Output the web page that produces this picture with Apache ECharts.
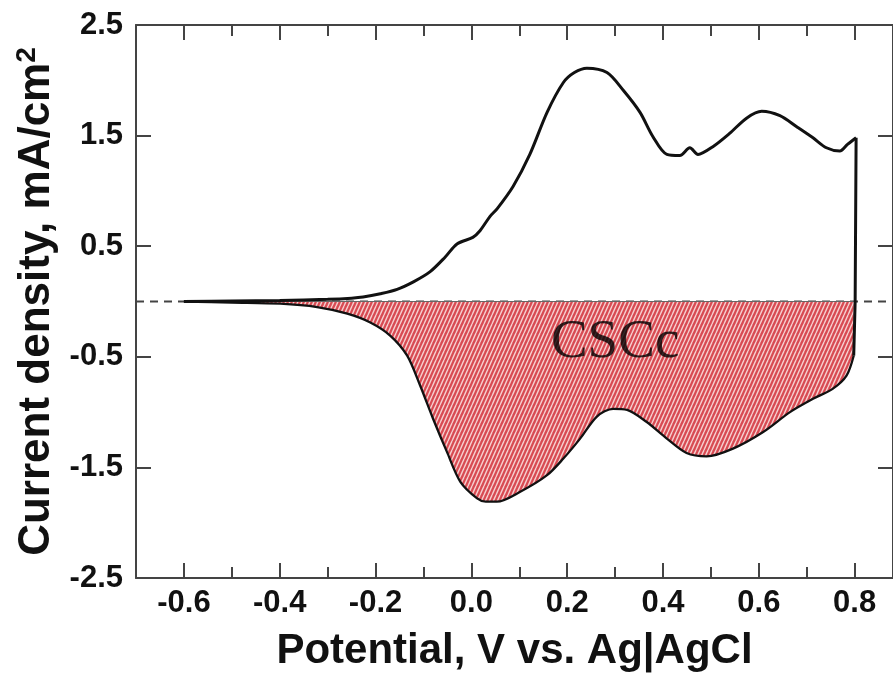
<!DOCTYPE html>
<html><head><meta charset="utf-8">
<script src="https://cdn.jsdelivr.net/npm/echarts@6/dist/echarts.min.js"></script>
<style>html,body{margin:0;padding:0;background:#fff}#c{width:893px;height:677px}</style>
</head><body><div id="c"></div>
<script>
// ---- data ----
const xMajorTicks = [-0.6, -0.4, -0.2, 0.0, 0.2, 0.4, 0.6, 0.8];
const xMinorTicks = [-0.5, -0.3, -0.1, 0.1, 0.3, 0.5, 0.7];
const yTickLabels = [-2.5, -1.5, -0.5, 0.5, 1.5, 2.5];
const yInnerTicks = [-1.5, -0.5, 0.5, 1.5];

// anodic (forward) sweep
const anodicPotential = [-0.6,-0.5,-0.4,-0.3,-0.25,-0.226,-0.19,-0.155,-0.12,-0.086,-0.055,-0.03,0.003,0.018,0.039,0.054,0.087,0.122,0.158,0.192,0.215,0.241,0.283,0.317,0.352,0.379,0.408,0.435,0.456,0.473,0.504,0.539,0.575,0.606,0.644,0.679,0.713,0.741,0.769,0.785,0.803];
const anodicCurrent   = [0,0.005,0.01,0.02,0.03,0.04,0.07,0.11,0.18,0.27,0.40,0.52,0.58,0.64,0.77,0.84,1.04,1.33,1.71,1.98,2.07,2.11,2.07,1.91,1.71,1.49,1.33,1.32,1.39,1.33,1.40,1.52,1.66,1.72,1.68,1.58,1.48,1.39,1.36,1.42,1.48];

// switching potential drop
const switchPotential = [0.803, 0.801, 0.798];
const switchCurrent   = [1.48, 0.0, -0.49];

// cathodic (reverse) sweep
const cathodicPotential = [0.798,0.783,0.754,0.713,0.665,0.609,0.546,0.491,0.449,0.408,0.366,0.325,0.296,0.262,0.227,0.192,0.158,0.102,0.053,0.03,0.012,-0.023,-0.051,-0.08,-0.107,-0.134,-0.169,-0.211,-0.259,-0.322,-0.399,-0.5,-0.6];
const cathodicCurrent   = [-0.49,-0.67,-0.79,-0.88,-1.0,-1.18,-1.33,-1.40,-1.37,-1.24,-1.09,-0.98,-0.97,-1.04,-1.24,-1.42,-1.57,-1.72,-1.81,-1.81,-1.78,-1.63,-1.36,-1.06,-0.76,-0.49,-0.31,-0.19,-0.11,-0.05,-0.02,-0.01,0];

const annotationText = 'CSCc';
const annotationPoint = [0.3, -0.37];

// ---- build ----
const zip = (a, b) => a.map((v, i) => [v, b[i]]);

// hatched red pattern
const TW = 4, TH = 9;
const tile = document.createElement('canvas');
tile.width = TW; tile.height = TH;
const g = tile.getContext('2d');
g.fillStyle = '#d84a52';
g.fillRect(0, 0, TW, TH);
g.strokeStyle = '#f6d0d0';
g.lineWidth = 1.4;
[-TW, 0, TW].forEach(o => { g.beginPath(); g.moveTo(o, TH); g.lineTo(o + TW, 0); g.stroke(); });

const FONT = 'Liberation Sans, Arial, Helvetica, sans-serif';
const AX = '#444';
const XMIN = -0.7, XMAX = 0.88;

function xAx(pos, ticks, len, showLine, showLabel) {
  return {
    type: 'value', position: pos, min: XMIN, max: XMAX,
    axisLine: { show: showLine, onZero: false, lineStyle: { color: AX, width: 2 } },
    axisTick: { show: true, inside: true, length: len, customValues: ticks, lineStyle: { color: AX, width: 2 } },
    axisLabel: showLabel ? { show: true, customValues: xMajorTicks, margin: 10, color: '#111', fontFamily: FONT, fontWeight: 'bold', fontSize: 31, formatter: v => (+v).toFixed(1) } : { show: false },
    splitLine: { show: false }
  };
}

const chart = echarts.init(document.getElementById('c'), null, { renderer: 'canvas' });
const xAxes = [
  xAx('bottom', xMajorTicks, 15, true, true),
  xAx('bottom', xMinorTicks, 11, false, false),
  xAx('top', xMajorTicks, 15, true, false),
  xAx('top', xMinorTicks, 11, false, false)
];
xAxes[0].name = 'Potential, V vs. Ag|AgCl';
xAxes[0].nameLocation = 'middle';
xAxes[0].nameGap = 52;
xAxes[0].nameTextStyle = { fontFamily: FONT, fontWeight: 'bold', fontSize: 42, color: '#111' };

chart.setOption({
  animation: false,
  backgroundColor: '#fff',
  grid: { left: 136, top: 25, width: 758, bottom: 97, containLabel: false },
  xAxis: xAxes,
  yAxis: [
    {
      type: 'value', position: 'left', min: -2.5, max: 2.5,
      axisLine: { show: true, onZero: false, lineStyle: { color: AX, width: 2 } },
      axisTick: { show: true, inside: true, length: 15, customValues: yInnerTicks, lineStyle: { color: AX, width: 2 } },
      axisLabel: { show: true, customValues: yTickLabels, margin: 13, color: '#111', fontFamily: FONT, fontWeight: 'bold', fontSize: 31, formatter: v => (+v).toFixed(1) },
      splitLine: { show: false },
      name: 'Current density, mA/cm{s|2}',
      nameLocation: 'middle', nameGap: 70,
      nameTextStyle: { fontFamily: FONT, fontWeight: 'bold', fontSize: 44, color: '#111',
        rich: { s: { fontFamily: FONT, fontWeight: 'bold', fontSize: 28, color: '#111', verticalAlign: 'top', padding: [0, 0, 18, 0] } } }
    },
    {
      type: 'value', position: 'right', min: -2.5, max: 2.5,
      axisLine: { show: true, onZero: false, lineStyle: { color: AX, width: 2 } },
      axisTick: { show: true, inside: true, length: 15, customValues: yInnerTicks, lineStyle: { color: AX, width: 2 } },
      axisLabel: { show: false }, splitLine: { show: false }
    }
  ],
  series: [
    { type: 'line', z: 1, data: [[XMIN, 0], [XMAX, 0]], symbol: 'none', silent: true,
      lineStyle: { color: '#444', width: 1.8, type: [8, 6] } },
    { type: 'line', z: 2, data: zip(cathodicPotential, cathodicCurrent), symbol: 'none', smooth: 0.3,
      lineStyle: { color: '#111', width: 2.3 },
      areaStyle: { origin: 0, opacity: 1, color: { image: tile, repeat: 'repeat' } } },
    { type: 'line', z: 3, data: [[-0.42, 0], [0.8, 0]], symbol: 'none', lineStyle: { color: '#666', width: 1.2 } },
    { type: 'line', z: 4, data: zip(anodicPotential, anodicCurrent), symbol: 'none', smooth: 0.3,
      lineStyle: { color: '#111', width: 3 } },
    { type: 'line', z: 4, data: zip(switchPotential, switchCurrent), symbol: 'none',
      lineStyle: { color: '#111', width: 3 } },
    { type: 'scatter', z: 5, data: [annotationPoint], symbolSize: 0, silent: true,
      label: { show: true, position: 'inside', formatter: annotationText, fontFamily: 'Liberation Serif, Times New Roman, serif', fontSize: 55, color: '#000' } }
  ]
});
</script>
</body></html>
